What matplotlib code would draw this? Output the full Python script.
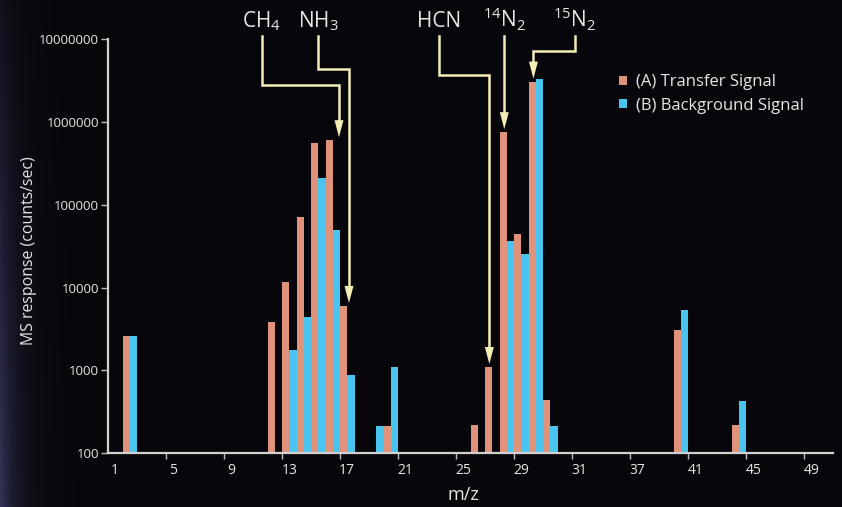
import numpy as np
import matplotlib
matplotlib.use('Agg')
import matplotlib.pyplot as plt
from matplotlib.ticker import FixedLocator, FuncFormatter, NullLocator

plt.rcParams['font.family'] = ['Open Sans', 'DejaVu Sans']
plt.rcParams['mathtext.fontset'] = 'custom'
plt.rcParams['mathtext.rm'] = 'Open Sans'
plt.rcParams['mathtext.it'] = 'Open Sans'

# Categorías del eje m/z (50 posiciones, se rotula una de cada cuatro)
n_cat = 50
etiquetas_x = ['1', '5', '9', '13', '17', '21', '25', '29', '31', '37', '41', '45', '49']

nan = np.nan
# (A) Señal de transferencia, una entrada por posición
senal_A = [nan, 2640, nan, nan, nan, nan, nan, nan, nan, nan,
           nan, 3800, 11700, 71000, 560000, 600000, 6000, nan, nan, 215,
           nan, nan, nan, nan, nan, 218, 1100, 750000, 44500, 3060000,
           440, nan, nan, nan, nan, nan, nan, nan, nan, 3100,
           nan, nan, nan, 220, nan, nan, nan, nan, nan, nan]
# (B) Señal de fondo
senal_B = [nan, 2640, nan, nan, nan, nan, nan, nan, nan, nan,
           nan, nan, 1770, 4400, 210000, 50000, 870, nan, 215, 1110,
           nan, nan, nan, nan, nan, nan, nan, 36600, 25200, 3330000,
           216, nan, nan, nan, nan, nan, nan, nan, nan, 5400,
           nan, nan, nan, 433, nan, nan, nan, nan, nan, nan]

# Especies señaladas con flecha: texto, posición de la etiqueta, codo, flecha, barra
especies = ['CH$_4$', 'NH$_3$', 'HCN', '$^{14}$N$_2$', '$^{15}$N$_2$']
x_etiqueta = [10.1, 14.0, 22.3, 26.83, 31.7]
y_codo = [10**6.441, 10**6.635, 10**6.562, None, 10**6.856]
x_flecha = [15.43, 16.12, 25.8, 26.83, 28.84]
pos_objetivo = [15, 16, 26, 27, 29]

c_A = '#e0937a'
c_B = '#48c4ee'
c_flecha = '#f2eeb6'
c_texto = '#e6e6e6'
c_fondo = '#07070b'

fig = plt.figure(figsize=(8.42, 5.07), dpi=100, facecolor=c_fondo)

# Resplandor azulado en el borde izquierdo
fondo = fig.add_axes([0, 0, 1, 1], zorder=-5)
xx, yy = np.meshgrid(np.arange(842), np.arange(507))
alpha = np.exp(-xx / 18.0) * (0.25 + 0.75 * yy / 507.0)
img = np.zeros((507, 842, 4))
img[..., 0] = 52 / 255
img[..., 1] = 52 / 255
img[..., 2] = 88 / 255
img[..., 3] = np.clip(alpha, 0, 1)
fondo.imshow(img, origin='upper', aspect='auto', extent=[0, 1, 0, 1])
fondo.set_axis_off()

ax = fig.add_axes([108 / 842, 53.7 / 507, 725 / 842, 414.3 / 507])
ax.set_facecolor('none')

pos = np.arange(n_cat)
A = np.array(senal_A, dtype=float)
B = np.array(senal_B, dtype=float)
ax.bar(pos - 0.25, np.nan_to_num(A, nan=0), width=0.5, color=c_A, linewidth=0, label='(A) Transfer Signal')
ax.bar(pos + 0.25, np.nan_to_num(B, nan=0), width=0.5, color=c_B, linewidth=0, label='(B) Background Signal')

ax.set_yscale('log')
ax.set_ylim(100, 1e7)
ax.set_xlim(-0.5, n_cat - 0.5)

ax.yaxis.set_major_locator(FixedLocator([1e2, 1e3, 1e4, 1e5, 1e6, 1e7]))
ax.yaxis.set_minor_locator(NullLocator())
ax.yaxis.set_major_formatter(FuncFormatter(lambda v, p: f'{int(round(v))}'))

# Marcas en los límites entre categorías, rótulos en el centro
ax.xaxis.set_major_locator(FixedLocator(np.arange(3.5, n_cat, 4)))
ax.xaxis.set_major_formatter(FuncFormatter(lambda v, p: ''))
ax.set_xticks(np.arange(0, n_cat, 4), etiquetas_x, minor=True)
ax.tick_params(axis='x', which='major', length=4, width=1, color='#bbbbbb', direction='out')
ax.tick_params(axis='x', which='minor', length=0, pad=7, labelsize=10, labelcolor=c_texto)
ax.tick_params(axis='y', which='major', length=5, width=1, color='#bbbbbb', direction='out',
               pad=1.5, labelsize=9.5, labelcolor=c_texto)

for s in ['top', 'right']:
    ax.spines[s].set_visible(False)
for s in ['left', 'bottom']:
    ax.spines[s].set_color('#d0d0d0')
    ax.spines[s].set_linewidth(1.6)

ax.set_ylabel('MS response (counts/sec)', color=c_texto, fontsize=11.4)
ax.yaxis.set_label_coords(-0.109, 0.49)
ax.set_xlabel('m/z', color=c_texto, fontsize=13)
ax.xaxis.set_label_coords(0.49, -0.10)
ax.xaxis.label.set_va('center')
ax.yaxis.label.set_va('center')

# Flechas de identificación de picos
y_texto = 1e7 * 10**0.139
y_inicio = 1e7 * 10**0.034
dec_px = 1 / 82.7
for nombre, xe, yc, xf, p in zip(especies, x_etiqueta, y_codo, x_flecha, pos_objetivo):
    ax.text(xe, y_texto, nombre, ha='center', va='baseline', fontsize=15,
            color=c_texto, clip_on=False)
    punta = A[p] * 10**(3 * dec_px)
    base = punta * 10**(17 * dec_px)
    if yc is None:
        xs, ys = [xe, xe], [y_inicio, base]
    else:
        xs, ys = [xe, xe, xf, xf], [y_inicio, yc, yc, base]
    ax.plot(xs, ys, color=c_flecha, lw=1.8, clip_on=False, solid_joinstyle='miter')
    ax.fill([xf - 0.31, xf + 0.31, xf], [base, base, punta], color=c_flecha,
            lw=0, clip_on=False)

leg = ax.legend(loc='upper left', bbox_to_anchor=(619 / 842, 1 - 74 / 507),
                bbox_transform=fig.transFigure, frameon=False, fontsize=12,
                handlelength=0.45, handleheight=0.45, handletextpad=0.55,
                labelspacing=0.45, borderpad=0, borderaxespad=0)
for t in leg.get_texts():
    t.set_color(c_texto)

fig.savefig('out.png', dpi=100, facecolor=c_fondo)
